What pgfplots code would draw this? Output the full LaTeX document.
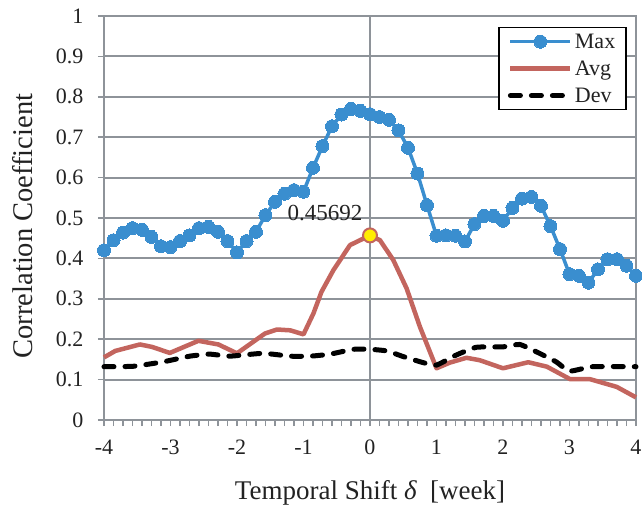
\documentclass[border=0pt]{standalone}
\usepackage{fontspec}
\setmainfont{Liberation Serif}
\usepackage{pgfplots}
\pgfplotsset{compat=1.18}
\definecolor{maxblue}{HTML}{3A8ECF}
\definecolor{avgred}{HTML}{C3655E}
\definecolor{gridgray}{HTML}{8E9399}
\definecolor{txt}{HTML}{222222}
\begin{document}
\begin{tikzpicture}
\begin{axis}[
  scale only axis,
  width=532bp, height=404bp,
  xmin=-4, xmax=4, ymin=0, ymax=1,
  xtick={-4,-3,-2,-1,0,1,2,3,4},
  xticklabels={-4,-3,-2,-1,0,1,2,3,4},
  minor x tick num=6,
  ytick={0,0.1,0.2,0.3,0.4,0.5,0.6,0.7,0.8,0.9,1},
  yticklabels={0,0.1,0.2,0.3,0.4,0.5,0.6,0.7,0.8,0.9,1},
  xtick pos=bottom, ytick pos=left,
  tick align=outside,
  major tick length=6bp, minor tick length=6bp,
  tick style={gridgray, line width=1.5bp},
  ymajorgrids,
  major grid style={gridgray, line width=2bp},
  axis line style={gridgray, line width=2bp},
  /pgf/number format/assume math mode=true,
  ticklabel style={font=\fontsize{22bp}{26bp}\selectfont, text=txt},
  xticklabel style={yshift=-10bp},
  yticklabel style={xshift=-11bp},
  xlabel={Temporal Shift {\itshape δ}~~[week]},
  ylabel={Correlation Coefficient},
  xlabel style={font=\fontsize{27bp}{30bp}\selectfont, text=txt, at={(axis description cs:0.5,-0.196)}, anchor=base, inner sep=0pt},
  ylabel style={font=\fontsize{28.5bp}{30bp}\selectfont, text=txt, at={(axis description cs:-0.1335,0.48)}, anchor=base, inner sep=0pt},
  legend style={at={(1,1)}, anchor=north east, xshift=-9bp, yshift=-11bp,
    fill=white, draw=black, line width=1.5bp,
    font=\fontsize{22bp}{24bp}\selectfont, text=txt,
    row sep=7bp, inner xsep=9bp, inner ysep=4bp},
  legend cell align=left,
  legend image code/.code={\draw[mark repeat=2,mark phase=2,#1] plot coordinates {(0bp,0bp) (30bp,0bp) (60bp,0bp)};},
  clip=false,
]
\draw[gridgray, line width=2bp] (axis cs:0,0) -- (axis cs:0,1);
\addplot[maxblue, line width=3.5bp, mark=*, mark size=6.5bp, mark options={fill=maxblue, draw=maxblue, line width=0bp}] coordinates {
(-4.0000,0.420) (-3.8571,0.445) (-3.7143,0.464) (-3.5714,0.475) (-3.4286,0.471)
(-3.2857,0.453) (-3.1429,0.430) (-3.0000,0.428) (-2.8571,0.443) (-2.7143,0.457)
(-2.5714,0.475) (-2.4286,0.478) (-2.2857,0.466) (-2.1429,0.443) (-2.0000,0.415)
(-1.8571,0.443) (-1.7143,0.466) (-1.5714,0.507) (-1.4286,0.540) (-1.2857,0.560)
(-1.1429,0.569) (-1.0000,0.565) (-0.8571,0.624) (-0.7143,0.678) (-0.5714,0.727)
(-0.4286,0.756) (-0.2857,0.770) (-0.1429,0.765) (0.0000,0.757) (0.1429,0.750)
(0.2857,0.743) (0.4286,0.717) (0.5714,0.674) (0.7143,0.610) (0.8571,0.532)
(1.0000,0.456) (1.1429,0.457) (1.2857,0.456) (1.4286,0.442) (1.5714,0.485)
(1.7143,0.505) (1.8571,0.505) (2.0000,0.493) (2.1429,0.525) (2.2857,0.548)
(2.4286,0.552) (2.5714,0.530) (2.7143,0.480) (2.8571,0.423) (3.0000,0.361)
(3.1429,0.357) (3.2857,0.340) (3.4286,0.373) (3.5714,0.398) (3.7143,0.398)
(3.8571,0.382) (4.0000,0.357)
};
\addlegendentry{Max}
\addplot[avgred, line width=4.5bp, line join=round] coordinates {
(-4.00,0.155) (-3.83,0.171) (-3.46,0.187) (-3.28,0.181) (-3.01,0.166)
(-2.58,0.196) (-2.28,0.187) (-2.00,0.165) (-1.58,0.214) (-1.40,0.224)
(-1.20,0.222) (-1.00,0.212) (-0.85,0.264) (-0.73,0.317) (-0.55,0.371)
(-0.30,0.433) (-0.10,0.449) (0.00,0.45692) (0.15,0.445) (0.35,0.396)
(0.55,0.326) (0.75,0.231) (1.00,0.128) (1.20,0.142) (1.45,0.154)
(1.65,0.148) (2.00,0.128) (2.38,0.143) (2.66,0.132) (3.01,0.101)
(3.31,0.101) (3.71,0.082) (4.00,0.056)
};
\addlegendentry{Avg}
\addplot[black, line width=5bp, line cap=round, dash pattern=on 10bp off 11bp, smooth, tension=0.3] coordinates {
(-4.00,0.132) (-3.56,0.133) (-3.11,0.144) (-2.71,0.158) (-2.41,0.163)
(-2.11,0.158) (-1.61,0.165) (-1.20,0.158) (-0.90,0.158) (-0.60,0.163)
(-0.25,0.175) (0.00,0.175) (0.25,0.171) (0.50,0.157) (0.80,0.142)
(1.00,0.136) (1.30,0.161) (1.60,0.180) (2.00,0.181) (2.25,0.187)
(2.50,0.169) (2.80,0.144) (3.00,0.121) (3.35,0.132) (4.00,0.132)
};
\addlegendentry{Dev}
\addplot[forget plot, only marks, mark=*, mark size=7bp, mark options={fill=yellow!95!orange, draw=avgred, line width=2bp}] coordinates {(0,0.45692)};
\node[anchor=base east, font=\fontsize{23bp}{26bp}\selectfont, text=txt] at (axis cs:0,0.45692) [xshift=-4bp, yshift=15bp] {0.45692};
\end{axis}
\pgfresetboundingbox
\path[use as bounding box] (-104bp,-88bp) rectangle (538bp,420bp);
\end{tikzpicture}
\end{document}
